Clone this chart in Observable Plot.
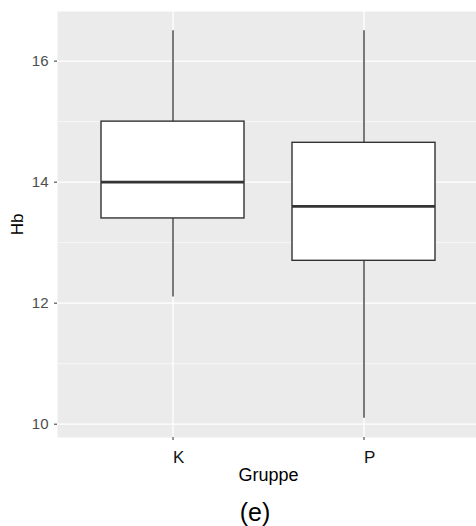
<!DOCTYPE html>
<html>
<head>
<meta charset="utf-8">
<script src="https://cdn.jsdelivr.net/npm/d3@7"></script>
<script src="https://cdn.jsdelivr.net/npm/@observablehq/plot@0.6"></script>
<style>
  body { margin: 0; background: #fff; font-family: "Liberation Sans", Arial, sans-serif; }
  #chart { width: 476px; }
  #caption { position: absolute; left: 0; top: 498px; width: 510px; text-align: center; font-size: 25px; color: #000; }
</style>
</head>
<body>
<div id="chart"></div>
<div id="caption">(e)</div>
<script>
// Hb per group: five-number summaries
const groups  = ["K", "P"];
const lower   = [12.1, 10.1];
const q1      = [13.4, 12.7];
const median  = [14.0, 13.6];
const q3      = [15.0, 14.65];
const upper   = [16.5, 16.5];

const majorTicks = [10, 12, 14, 16];
const minorTicks = [11, 13, 15];

const stats = groups.map((g, i) => ({
  group: g, lo: lower[i], q1: q1[i], med: median[i], q3: q3[i], hi: upper[i]
}));

const dark = "#333333";

const chart = Plot.plot({
  width: 476,
  height: 490,
  marginTop: 11,
  marginBottom: 53,
  marginLeft: 57,
  marginRight: 0,
  style: { fontFamily: "'Liberation Sans', Arial, sans-serif", background: "#fff" },
  x: { type: "band", domain: groups, range: [56.8, 479.2], paddingInner: 0.25, paddingOuter: 0.225, align: 0.5 },
  y: { domain: [9.78, 16.82] },
  marks: [
    Plot.frame({ fill: "#ebebeb", stroke: null }),
    Plot.ruleY(minorTicks, { stroke: "#fff", strokeWidth: 0.6 }),
    Plot.ruleY(majorTicks, { stroke: "#fff", strokeWidth: 1.3 }),
    Plot.ruleX(groups, { x: d => d, stroke: "#fff", strokeWidth: 1.3 }),
    Plot.ruleX(stats, { x: "group", y1: "lo", y2: "hi", stroke: dark, strokeWidth: 1.3 }),
    Plot.barY(stats, { x: "group", y1: "q1", y2: "q3", fill: "#fff", stroke: dark, strokeWidth: 1.4 }),
    Plot.tickY(stats, { x: "group", y: "med", stroke: dark, strokeWidth: 2.8 }),
    Plot.axisY({ ticks: majorTicks, tickFormat: "d", tickSize: 3, tickPadding: 6, fontSize: 15, color: "#4d4d4d", stroke: dark, label: null }),
    Plot.axisX({ tickSize: 3, tickPadding: 10, fontSize: 17, fill: "#111", stroke: dark, textAnchor: "start", label: null }),
    Plot.text(["Hb"], { frameAnchor: "left", rotate: -90, dx: -40, fontSize: 17, fill: "#000", textAnchor: "middle", lineAnchor: "middle" }),
    Plot.text(["Gruppe"], { frameAnchor: "bottom", dx: 1.5, dy: 31, fontSize: 18, fill: "#000", textAnchor: "middle", lineAnchor: "top" })
  ]
});

document.getElementById("chart").append(chart);
</script>
</body>
</html>
